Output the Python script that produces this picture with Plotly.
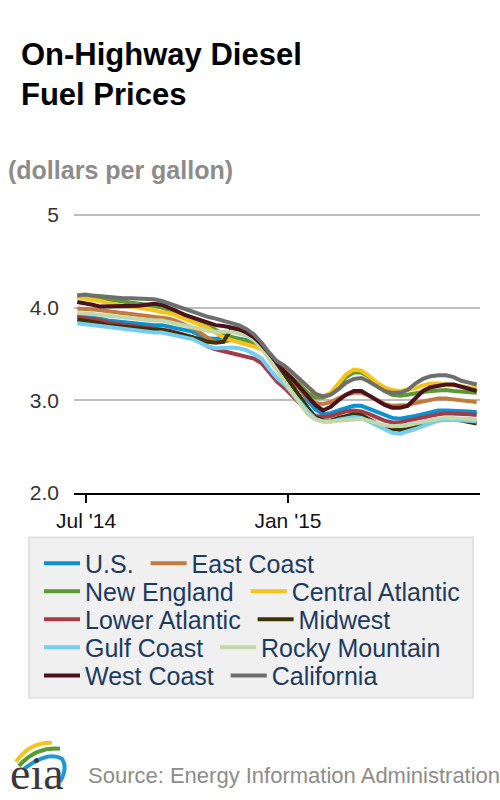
import plotly.graph_objects as go
import pandas as pd

# weekly on-highway diesel prices, dollars per gallon
weeks = pd.date_range("2014-06-23", periods=53, freq="7D")

us = [3.92, 3.91, 3.90, 3.88, 3.86, 3.85, 3.84, 3.83, 3.83, 3.82,
      3.81, 3.81, 3.79, 3.77, 3.76, 3.74, 3.70, 3.67, 3.66, 3.68,
      3.68, 3.66, 3.65, 3.61, 3.56, 3.45, 3.36, 3.29, 3.21, 3.12,
      3.00, 2.90, 2.85, 2.86, 2.89, 2.92, 2.94, 2.94, 2.91, 2.87,
      2.84, 2.81, 2.80, 2.81, 2.83, 2.85, 2.87, 2.89, 2.89, 2.89,
      2.88, 2.88, 2.87]
east_coast = [3.99, 3.99, 3.98, 3.97, 3.96, 3.95, 3.94, 3.93, 3.93, 3.92,
              3.91, 3.90, 3.88, 3.85, 3.82, 3.78, 3.73, 3.67, 3.63, 3.63,
              3.65, 3.65, 3.64, 3.61, 3.56, 3.46, 3.37, 3.30, 3.22, 3.12,
              3.03, 2.97, 2.96, 2.98, 3.02, 3.06, 3.08, 3.08, 3.05, 3.00,
              2.96, 2.94, 2.94, 2.95, 2.97, 2.99, 3.01, 3.02, 3.02, 3.01,
              3.00, 2.99, 2.98]
new_england = [4.13, 4.12, 4.11, 4.10, 4.09, 4.08, 4.07, 4.06, 4.05, 4.04,
               4.02, 4.00, 3.98, 3.95, 3.92, 3.88, 3.85, 3.81, 3.76, 3.71,
               3.68, 3.66, 3.64, 3.61, 3.57, 3.49, 3.41, 3.33, 3.25, 3.16,
               3.08, 3.03, 3.03, 3.07, 3.16, 3.25, 3.30, 3.30, 3.25, 3.17,
               3.10, 3.06, 3.05, 3.06, 3.08, 3.09, 3.10, 3.11, 3.11, 3.10,
               3.09, 3.09, 3.08]
central_atlantic = [4.11, 4.10, 4.09, 4.07, 4.05, 4.03, 4.02, 4.01, 4.00, 3.99,
                    3.97, 3.95, 3.94, 3.91, 3.88, 3.85, 3.82, 3.78, 3.73, 3.68,
                    3.65, 3.63, 3.61, 3.58, 3.55, 3.46, 3.40, 3.35, 3.29, 3.22,
                    3.14, 3.07, 3.04, 3.08, 3.18, 3.28, 3.33, 3.32, 3.26, 3.19,
                    3.14, 3.11, 3.10, 3.11, 3.13, 3.16, 3.18, 3.18, 3.17, 3.16,
                    3.15, 3.14, 3.13]
lower_atlantic = [3.90, 3.89, 3.88, 3.86, 3.84, 3.83, 3.82, 3.81, 3.80, 3.79,
                  3.78, 3.77, 3.75, 3.73, 3.71, 3.68, 3.63, 3.58, 3.55, 3.53,
                  3.52, 3.50, 3.48, 3.45, 3.40, 3.30, 3.20, 3.13, 3.05, 2.97,
                  2.88, 2.83, 2.82, 2.83, 2.86, 2.88, 2.89, 2.88, 2.85, 2.81,
                  2.78, 2.76, 2.76, 2.78, 2.80, 2.82, 2.84, 2.85, 2.86, 2.86,
                  2.85, 2.85, 2.84]
midwest = [3.87, 3.86, 3.85, 3.83, 3.81, 3.80, 3.79, 3.78, 3.78, 3.77,
           3.76, 3.76, 3.74, 3.72, 3.71, 3.69, 3.66, 3.63, 3.62, 3.63,
           3.76, 3.74, 3.72, 3.68, 3.61, 3.49, 3.37, 3.27, 3.16, 3.04,
           2.92, 2.82, 2.78, 2.78, 2.81, 2.83, 2.85, 2.84, 2.80, 2.75,
           2.71, 2.69, 2.68, 2.69, 2.71, 2.73, 2.76, 2.79, 2.80, 2.80,
           2.78, 2.76, 2.75]
gulf_coast = [3.83, 3.82, 3.81, 3.80, 3.78, 3.77, 3.76, 3.75, 3.75, 3.74,
              3.73, 3.73, 3.71, 3.69, 3.68, 3.66, 3.62, 3.58, 3.56, 3.57,
              3.57, 3.56, 3.54, 3.50, 3.45, 3.34, 3.24, 3.17, 3.08, 2.98,
              2.88, 2.80, 2.77, 2.77, 2.79, 2.80, 2.82, 2.81, 2.77, 2.72,
              2.68, 2.65, 2.64, 2.66, 2.69, 2.72, 2.75, 2.78, 2.79, 2.79,
              2.78, 2.78, 2.77]
rocky_mountain = [3.94, 3.94, 3.93, 3.92, 3.91, 3.90, 3.89, 3.88, 3.88, 3.87,
                  3.86, 3.86, 3.84, 3.82, 3.81, 3.79, 3.77, 3.75, 3.74, 3.74,
                  3.74, 3.72, 3.70, 3.65, 3.57, 3.44, 3.31, 3.20, 3.08, 2.96,
                  2.85, 2.79, 2.77, 2.77, 2.78, 2.79, 2.80, 2.80, 2.78, 2.75,
                  2.73, 2.72, 2.72, 2.73, 2.75, 2.77, 2.79, 2.80, 2.81, 2.81,
                  2.80, 2.80, 2.79]
west_coast = [4.06, 4.05, 4.03, 4.01, 4.01, 4.01, 4.01, 4.01, 4.02, 4.03,
              4.04, 4.03, 4.00, 3.96, 3.92, 3.89, 3.86, 3.83, 3.81, 3.80,
              3.79, 3.77, 3.73, 3.68, 3.60, 3.50, 3.40, 3.31, 3.23, 3.14,
              3.05, 2.95, 2.89, 2.93, 3.00, 3.06, 3.10, 3.10, 3.05, 3.00,
              2.95, 2.92, 2.92, 2.94, 3.02, 3.10, 3.14, 3.16, 3.17, 3.17,
              3.15, 3.12, 3.10]
california = [4.13, 4.14, 4.13, 4.12, 4.11, 4.11, 4.10, 4.10, 4.10, 4.10,
              4.09, 4.07, 4.04, 4.01, 3.99, 3.96, 3.93, 3.90, 3.88, 3.86,
              3.84, 3.81, 3.77, 3.71, 3.62, 3.51, 3.42, 3.37, 3.30, 3.22,
              3.14, 3.07, 3.04, 3.06, 3.12, 3.19, 3.23, 3.24, 3.20, 3.15,
              3.10, 3.08, 3.08, 3.11, 3.18, 3.23, 3.26, 3.27, 3.27, 3.25,
              3.21, 3.19, 3.17]

# name, values, colour, legend row
series = [
    ("U.S.", us, "#0a93d2", 1),
    ("East Coast", east_coast, "#c27b3e", 1),
    ("New England", new_england, "#5b9a33", 2),
    ("Central Atlantic", central_atlantic, "#f7c31a", 2),
    ("Lower Atlantic", lower_atlantic, "#a33b4b", 3),
    ("Midwest", midwest, "#3e3305", 3),
    ("Gulf Coast", gulf_coast, "#74cdf2", 4),
    ("Rocky Mountain", rocky_mountain, "#c2d8ab", 4),
    ("West Coast", west_coast, "#4c121b", 5),
    ("California", california, "#6e6e6e", 5),
]

y_ticks = [2, 3, 4, 5]
y_tick_text = ["2.0", "3.0", "4.0", "5"]
x_ticks = ["2014-07-01", "2015-01-01"]
x_tick_text = ["Jul '14", "Jan '15"]

FONT = "Liberation Sans, Arial, sans-serif"
Y_MAX = 5.03

# plot area in pixels, used to place the decorations around it
PL, PR, PB = 74, 480, 492.7
PT = 215 - (Y_MAX - 5) * (PB - 215) / 3


def px(x):
    return (x - PL) / (PR - PL)


def py(y):
    return (PB - y) / (PB - PT)


def path(cmds):
    out = []
    for c in cmds:
        if isinstance(c, str):
            out.append(c)
        else:
            out.append(f"{px(c[0]):.4f},{py(c[1]):.4f}")
    return " ".join(out)


fig = go.Figure()
seen_rows = set()
for name, vals, color, row in series:
    # pad the first entry of a row so the second one sits a bit further right
    label = name + "\u00a0" if row not in seen_rows else name
    seen_rows.add(row)
    fig.add_trace(go.Scatter(
        x=weeks, y=vals, name=label, mode="lines",
        line=dict(color=color, width=4),
        legend="legend" if row == 1 else f"legend{row}",
    ))

# one horizontal legend per row, so entries flow like the original
row_centers = [563, 591, 619, 647, 675]
legends = {}
for i, yc in enumerate(row_centers):
    key = "legend" if i == 0 else f"legend{i + 1}"
    legends[key] = dict(
        orientation="h", x=px(39), xanchor="left", y=py(yc), yanchor="middle",
        font=dict(family=FONT, size=25, color="#1d3a5f"),
        bgcolor="rgba(0,0,0,0)", itemwidth=36,
    )

fig.update_layout(
    width=500, height=800,
    margin=dict(l=PL, r=500 - PR, t=PT, b=800 - PB),
    paper_bgcolor="white", plot_bgcolor="white",
    font=dict(family=FONT, color="#333333"),
    showlegend=True,
    xaxis=dict(
        range=["2014-06-20", "2015-06-25"],
        tickvals=x_ticks, ticktext=x_tick_text,
        ticks="outside", ticklen=8, tickwidth=2, tickcolor="black",
        tickfont=dict(size=21, color="#111111"),
        showgrid=False, showline=True, linecolor="black", linewidth=2,
        zeroline=False,
    ),
    yaxis=dict(
        range=[2, Y_MAX], tickvals=y_ticks, ticktext=y_tick_text,
        tickfont=dict(size=21, color="#333333"),
        showgrid=True, gridcolor="#bdbdbd", gridwidth=2,
        zeroline=False, showline=False, ticks="", ticklabelstandoff=14,
    ),
    shapes=[
        # legend panel
        dict(type="rect", xref="paper", yref="paper", layer="below",
             x0=px(29), x1=px(473), y0=py(537), y1=py(697),
             fillcolor="#f0f0f0", line=dict(color="#e2e2e2", width=2)),
        # eia logo swooshes
        dict(type="path", xref="paper", yref="paper",
             path=path(["M", (16, 761), "Q", (30, 741), (52, 742)]),
             line=dict(color="#f4c520", width=4)),
        dict(type="path", xref="paper", yref="paper",
             path=path(["M", (19, 765), "Q", (36, 746), (60, 748)]),
             line=dict(color="#5a9a2e", width=4)),
        dict(type="path", xref="paper", yref="paper",
             path=path(["M", (24, 768), "Q", (48, 750), (62, 758),
                        "Q", (68, 767), (60, 781)]),
             line=dict(color="#1b9ad6", width=4)),
    ],
    annotations=[
        dict(text="On-Highway Diesel<br>Fuel Prices", xref="paper", yref="paper",
             x=px(19), y=py(36), xanchor="left", yanchor="top", align="left",
             showarrow=False,
             font=dict(family=FONT, size=31, color="black", weight="bold")),
        dict(text="(dollars per gallon)", xref="paper", yref="paper",
             x=px(6), y=py(170), xanchor="left", yanchor="middle",
             showarrow=False,
             font=dict(family=FONT, size=25, color="#8c8c8c", weight="bold")),
        dict(text="eia", xref="paper", yref="paper",
             x=px(37), y=py(800), xanchor="center", yanchor="bottom",
             showarrow=False,
             font=dict(family="Liberation Serif, serif", size=46, color="#3a3a3a")),
        dict(text="Source: Energy Information Administration", xref="paper", yref="paper",
             x=px(86), y=py(775), xanchor="left", yanchor="middle",
             showarrow=False,
             font=dict(family=FONT, size=22, color="#8c8c8c")),
    ],
    **legends,
)

fig.write_html("out.html", config={"displayModeBar": False},
               post_script="document.body.style.margin = '0';")
